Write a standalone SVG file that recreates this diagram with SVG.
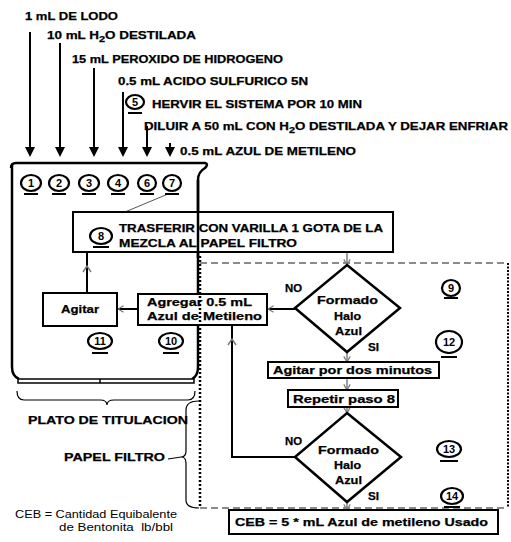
<svg xmlns="http://www.w3.org/2000/svg" width="511" height="542" viewBox="0 0 511 542">
<style>
.t{font-family:"Liberation Sans",Arial,sans-serif;font-weight:bold;font-size:11px;fill:#000;stroke:#000;stroke-width:0.25}
.n{font-family:"Liberation Sans",Arial,sans-serif;font-weight:bold;font-size:11px;fill:#000;text-anchor:middle}
.r{font-family:"Liberation Sans",Arial,sans-serif;font-size:11px;fill:#000}
.circ{fill:#fff;stroke:#000;stroke-width:2.2}
.ul{stroke:#000;stroke-width:2}
.box{fill:#fff;stroke:#000;stroke-width:2}
.dia{fill:#fff;stroke:#000;stroke-width:2.5}
.wall{fill:none;stroke:#000;stroke-width:2.5}
.dn{stroke:#000;stroke-width:2;fill:none;marker-end:url(#tri)}
.g{stroke:#888;stroke-width:1.6;fill:none;marker-end:url(#chev)}
.k{stroke:#000;stroke-width:2;fill:none}
.ka{stroke:#000;stroke-width:2;fill:none;marker-end:url(#chev)}
.chv{stroke:#777;stroke-width:1.4;fill:none}
</style>
<defs>
<marker id="tri" viewBox="0 0 10 10" refX="6" refY="5" markerWidth="10" markerHeight="11" markerUnits="userSpaceOnUse" orient="auto"><path d="M0,0 L10,5 L0,10 Z" fill="#000"/></marker>
<marker id="chev" viewBox="0 0 10 10" refX="9" refY="5" markerWidth="8" markerHeight="8" markerUnits="userSpaceOnUse" orient="auto"><path d="M2,1 L9,5 L2,9" fill="none" stroke="#777" stroke-width="1.5"/></marker>
</defs>
<rect width="511" height="542" fill="#fff"/>

<g id="papel">
<line x1="200" y1="263" x2="508" y2="263" stroke="#666" stroke-width="1.6" stroke-dasharray="7 4"/>
<line x1="200" y1="508" x2="508" y2="508" stroke="#666" stroke-width="1.6" stroke-dasharray="7 4"/>
<line x1="508" y1="263" x2="508" y2="508" stroke="#000" stroke-width="2" stroke-dasharray="2 1.5"/>
</g>

<g id="plato">
<path class="wall" d="M11,168 Q11,163 16,163 L205,163 Q209,164 205,168 Q198,172 198,180 L198,367 Q198,376 192,379"/>
<path class="wall" d="M12,165 L12,367 Q12,376 19,379"/>
<rect x="18" y="379" width="176" height="4" fill="#fff" stroke="#000" stroke-width="1.5"/>
<line x1="100" y1="379" x2="100" y2="383" stroke="#000" stroke-width="1.5"/>
<path d="M17,391 Q17,400 24,400 L100,400 Q107,400 107,405 Q107,400 114,400 L188,400 Q195,400 195,391" fill="none" stroke="#000" stroke-width="1.2"/>
<text class="t" x="28" y="424" font-size="12" textLength="160" lengthAdjust="spacingAndGlyphs">PLATO DE TITULACION</text>
</g>

<g id="papel-label">
<path d="M199,401 Q186,401 186,410 L186,451 Q186,457 181,457 Q186,457 186,463 L186,500 Q186,508 199,508" fill="none" stroke="#000" stroke-width="1.2"/>
<line x1="168" y1="459" x2="181" y2="457" stroke="#000" stroke-width="1.2"/>
<text class="t" x="64" y="461" font-size="12" textLength="101" lengthAdjust="spacingAndGlyphs">PAPEL FILTRO</text>
</g>

<g id="leyenda">
<text class="r" x="15" y="518" textLength="162" lengthAdjust="spacingAndGlyphs">CEB = Cantidad Equibalente</text>
<text class="r" x="59" y="531" textLength="114" lengthAdjust="spacingAndGlyphs" xml:space="preserve">de Bentonita  lb/bbl</text>
</g>

<g id="pasos">
<text class="t" x="25" y="20" textLength="93" lengthAdjust="spacingAndGlyphs">1 mL DE LODO</text>
<text class="t" x="47" y="39" textLength="149" lengthAdjust="spacingAndGlyphs">10 mL H<tspan dy="3" font-size="9">2</tspan><tspan dy="-3">O DESTILADA</tspan></text>
<text class="t" x="72" y="63" textLength="211" lengthAdjust="spacingAndGlyphs">15 mL PEROXIDO DE HIDROGENO</text>
<text class="t" x="118" y="85" textLength="190" lengthAdjust="spacingAndGlyphs">0.5 mL ACIDO SULFURICO 5N</text>
<text class="t" x="152" y="108" textLength="210" lengthAdjust="spacingAndGlyphs">HERVIR EL SISTEMA POR 10 MIN</text>
<text class="t" x="144" y="130" textLength="364" lengthAdjust="spacingAndGlyphs">DILUIR A 50 mL CON H<tspan dy="3" font-size="9">2</tspan><tspan dy="-3">O DESTILADA Y DEJAR ENFRIAR</tspan></text>
<text class="t" x="180" y="155" textLength="176" lengthAdjust="spacingAndGlyphs">0.5 mL AZUL DE METILENO</text>
</g>

<g id="conectores">
<line class="dn" x1="30" y1="32" x2="30" y2="153"/>
<line class="dn" x1="60" y1="43" x2="60" y2="153"/>
<line class="dn" x1="94" y1="68" x2="94" y2="153"/>
<line class="dn" x1="123" y1="92" x2="123" y2="153"/>
<line class="dn" x1="147" y1="126" x2="147" y2="153"/>
<line class="dn" x1="170" y1="143" x2="170" y2="153"/>
<line x1="168" y1="194" x2="113" y2="217" stroke="#555" stroke-width="1" marker-end="url(#chev)"/>
<line class="g" x1="347" y1="252" x2="347" y2="265"/>
<line class="g" x1="347" y1="352" x2="347" y2="362"/>
<line class="g" x1="347" y1="378" x2="347" y2="390"/>
<line class="g" x1="347" y1="407" x2="347" y2="413"/>
<line class="g" x1="347" y1="502" x2="347" y2="510"/>
<line class="ka" x1="295" y1="309" x2="268" y2="309"/>
<line class="ka" x1="138" y1="309" x2="118" y2="309"/>
<line class="k" x1="87" y1="293" x2="87" y2="252"/>
<polyline class="chv" points="83,272 87,266 91,272"/>
<path class="k" d="M295,457 L232,457 L232,326"/>
<polyline class="chv" points="228,345 232,339 236,345"/>
</g>

<g id="n8">
<rect class="box" x="73" y="212" width="320" height="40"/>
<text class="t" x="119" y="232" textLength="264" lengthAdjust="spacingAndGlyphs">TRASFERIR CON VARILLA 1 GOTA DE LA</text>
<text class="t" x="119" y="247" textLength="178" lengthAdjust="spacingAndGlyphs">MEZCLA AL PAPEL FILTRO</text>
</g>
<g id="agitar">
<rect class="box" x="43" y="293" width="74" height="33"/>
<text class="t" x="61" y="313" textLength="38" lengthAdjust="spacingAndGlyphs">Agitar</text>
</g>
<g id="agregar">
<rect class="box" x="138" y="294" width="129" height="31"/>
<text class="t" x="147" y="306" textLength="105" lengthAdjust="spacingAndGlyphs">Agregar 0.5 mL</text>
<text class="t" x="147" y="320" textLength="115" lengthAdjust="spacingAndGlyphs">Azul de Metileno</text>
</g>

<g id="borde">
<line x1="198" y1="180" x2="198" y2="258" stroke="#000" stroke-width="2.5"/>
<line x1="200" y1="256" x2="200" y2="508" stroke="#000" stroke-width="2.5" stroke-dasharray="2 2"/>
</g>

<g id="d1">
<polygon class="dia" points="347,265 400,308 347,352 295,308"/>
<text class="t" x="317" y="304" textLength="61" lengthAdjust="spacingAndGlyphs">Formado</text>
<text class="t" x="334" y="320" textLength="27" lengthAdjust="spacingAndGlyphs">Halo</text>
<text class="t" x="335" y="335" textLength="27" lengthAdjust="spacingAndGlyphs">Azul</text>
<text class="t" x="285" y="292" textLength="17" lengthAdjust="spacingAndGlyphs">NO</text>
<text class="t" x="368" y="351" textLength="11" lengthAdjust="spacingAndGlyphs">SI</text>
</g>
<g id="agitar2">
<rect class="box" x="268" y="362" width="171" height="16"/>
<text class="t" x="273" y="374" textLength="159" lengthAdjust="spacingAndGlyphs">Agitar por dos minutos</text>
</g>
<g id="repetir">
<rect class="box" x="288" y="390" width="110" height="17"/>
<text class="t" x="293" y="403" textLength="102" lengthAdjust="spacingAndGlyphs">Repetir paso 8</text>
</g>
<g id="d2">
<polygon class="dia" points="347,413 401,457 347,502 295,457"/>
<text class="t" x="318" y="454" textLength="61" lengthAdjust="spacingAndGlyphs">Formado</text>
<text class="t" x="334" y="469" textLength="27" lengthAdjust="spacingAndGlyphs">Halo</text>
<text class="t" x="335" y="484" textLength="27" lengthAdjust="spacingAndGlyphs">Azul</text>
<text class="t" x="285" y="445" textLength="17" lengthAdjust="spacingAndGlyphs">NO</text>
<text class="t" x="368" y="500" textLength="11" lengthAdjust="spacingAndGlyphs">SI</text>
</g>
<g id="ceb">
<rect class="box" x="229" y="510" width="269" height="24"/>
<text class="t" x="235" y="526" textLength="253" lengthAdjust="spacingAndGlyphs">CEB = 5 * mL Azul de metileno Usado</text>
</g>

<g id="c1"><ellipse class="circ" cx="31" cy="183" rx="10" ry="8"/><text class="n" x="31" y="187">1</text><line class="ul" x1="24" y1="194" x2="38" y2="194"/></g>
<g id="c2"><ellipse class="circ" cx="59" cy="183" rx="10" ry="8"/><text class="n" x="59" y="187">2</text><line class="ul" x1="52" y1="194" x2="66" y2="194"/></g>
<g id="c3"><ellipse class="circ" cx="89" cy="183" rx="10" ry="8"/><text class="n" x="89" y="187">3</text><line class="ul" x1="82" y1="194" x2="96" y2="194"/></g>
<g id="c4"><ellipse class="circ" cx="118" cy="183" rx="10" ry="8"/><text class="n" x="118" y="187">4</text><line class="ul" x1="111" y1="194" x2="125" y2="194"/></g>
<g id="c5"><ellipse class="circ" cx="135" cy="102" rx="9" ry="7"/><text class="n" x="135" y="106">5</text><line class="ul" x1="128" y1="113" x2="142" y2="113"/></g>
<g id="c6"><ellipse class="circ" cx="147" cy="183" rx="9" ry="8"/><text class="n" x="147" y="187">6</text><line class="ul" x1="140" y1="194" x2="154" y2="194"/></g>
<g id="c7"><ellipse class="circ" cx="172" cy="183" rx="9" ry="8"/><text class="n" x="172" y="187">7</text><line class="ul" x1="165" y1="194" x2="179" y2="194"/></g>
<g id="c8"><ellipse class="circ" cx="101" cy="236" rx="11" ry="8"/><text class="n" x="101" y="240">8</text><line class="ul" x1="93" y1="247" x2="109" y2="247"/></g>
<g id="c9"><ellipse class="circ" cx="451" cy="288" rx="9" ry="8"/><text class="n" x="451" y="292">9</text><line class="ul" x1="444" y1="298" x2="458" y2="298"/></g>
<g id="c10"><ellipse class="circ" cx="171" cy="341" rx="12" ry="8"/><text class="n" x="171" y="345">10</text><line class="ul" x1="163" y1="353" x2="179" y2="353"/></g>
<g id="c11"><ellipse class="circ" cx="100" cy="341" rx="12" ry="8"/><text class="n" x="100" y="345">11</text><line class="ul" x1="92" y1="353" x2="108" y2="353"/></g>
<g id="c12"><ellipse class="circ" cx="449" cy="342" rx="13" ry="11"/><text class="n" x="449" y="346">12</text><line class="ul" x1="441" y1="357" x2="457" y2="357"/></g>
<g id="c13"><ellipse class="circ" cx="449" cy="449" rx="12" ry="8"/><text class="n" x="449" y="453">13</text><line class="ul" x1="440" y1="461" x2="458" y2="461"/></g>
<g id="c14"><ellipse class="circ" cx="452" cy="496" rx="11" ry="8"/><text class="n" x="452" y="500">14</text><line class="ul" x1="444" y1="507" x2="460" y2="507"/></g>
</svg>
